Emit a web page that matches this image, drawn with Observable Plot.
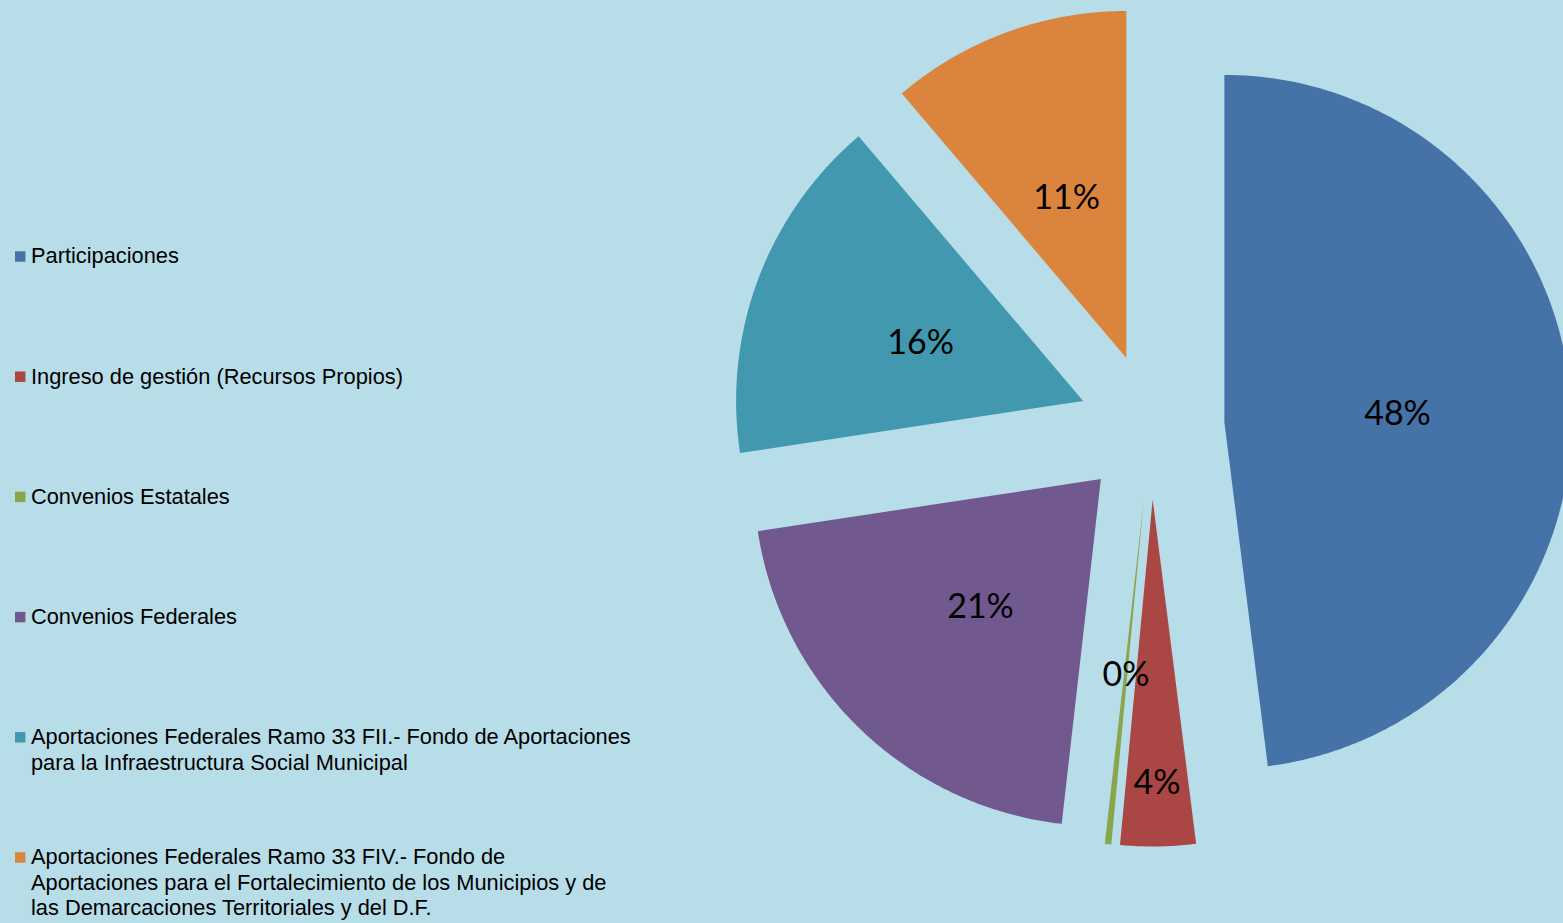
<!DOCTYPE html>
<html><head><meta charset="utf-8">
<script src="https://cdn.jsdelivr.net/npm/d3@7"></script>
<script src="https://cdn.jsdelivr.net/npm/@observablehq/plot@0.6"></script>
<style>html,body{margin:0;padding:0;background:#b7dde8;overflow:hidden}</style>
</head><body><div id="chart"></div>
<script>
// ---- data ----
const categories = [
  "Participaciones",
  "Ingreso de gestión (Recursos Propios)",
  "Convenios Estatales",
  "Convenios Federales",
  "Aportaciones Federales Ramo 33 FII.- Fondo de Aportaciones\npara la Infraestructura Social Municipal",
  "Aportaciones Federales Ramo 33 FIV.- Fondo de\nAportaciones para el Fortalecimiento de los Municipios y de\nlas Demarcaciones Territoriales y del D.F."
];
const values = [48.0, 3.5, 0.3, 20.8, 16.2, 11.2];
const pctLabels = ["48%", "4%", "0%", "21%", "16%", "11%"];
const colors = ["#4572A7", "#AA4643", "#89A54E", "#71588F", "#4198AF", "#DB843D"];

// ---- layout ----
const W = 1563, H = 923;
const cx = 1151, cy = 426, R = 347, explode = 73;
const labelFrac = i => (i === 1 ? 0.81 : 0.5);
const legendY0 = 256, legendStep = 120.2, legendLine = 25.3;

const rows = categories.map((name, i) => ({name, value: values[i], label: pctLabels[i], i}));
const arcs = d3.pie().sort(null).value(d => d.value)(rows);
const pt = (a, r) => [Math.sin(a) * r, -Math.cos(a) * r];

const wedgePts = [];
const labelPts = [];
arcs.forEach(arc => {
  const mid = (arc.startAngle + arc.endAngle) / 2;
  const [ox, oy] = pt(mid, explode);
  const ax = cx + ox, ay = cy + oy;
  const name = arc.data.name;
  wedgePts.push({name, x: ax, y: ay});
  const n = Math.max(2, Math.ceil((arc.endAngle - arc.startAngle) / (Math.PI / 360)));
  for (let k = 0; k <= n; k++) {
    const a = arc.startAngle + (arc.endAngle - arc.startAngle) * k / n;
    const [px, py] = pt(a, R);
    wedgePts.push({name, x: ax + px, y: ay + py});
  }
  wedgePts.push({name, x: ax, y: ay});
  const [lx, ly] = pt(mid, R * labelFrac(arc.data.i));
  labelPts.push({text: arc.data.label, x: ax + lx, y: ay + ly});
});

const legendSq = rows.map((d, i) => ({name: d.name, x: 19.7, y: legendY0 + i * legendStep}));
const legendText = [];
rows.forEach((d, i) => {
  d.name.split("\n").forEach((line, j) => {
    legendText.push({text: line, x: 30.5, y: legendY0 + i * legendStep + j * legendLine});
  });
});

const chart = Plot.plot({
  width: W, height: H, margin: 0,
  style: {background: "#b7dde8", overflow: "hidden"},
  x: {domain: [0, W], range: [0, W], axis: null},
  y: {domain: [0, H], range: [0, H], axis: null},
  color: {domain: categories, range: colors},
  marks: [
    Plot.line(wedgePts, {x: "x", y: "y", z: "name", fill: "name", stroke: "none", curve: "linear"}),
    Plot.text(labelPts, {x: "x", y: "y", text: "text", fontSize: 34, fontFamily: "Lato", fill: "#000", textAnchor: "middle", lineAnchor: "middle", dy: 3}),
    Plot.dot(legendSq, {x: "x", y: "y", symbol: "square", r: 5.9, fill: "name", stroke: "none"}),
    Plot.text(legendText, {x: "x", y: "y", text: "text", fontSize: 21.8, fontFamily: "Liberation Sans, Arial, sans-serif", fill: "#000", textAnchor: "start", lineAnchor: "middle"})
  ]
});
document.getElementById("chart").appendChild(chart);
</script>
</body></html>
